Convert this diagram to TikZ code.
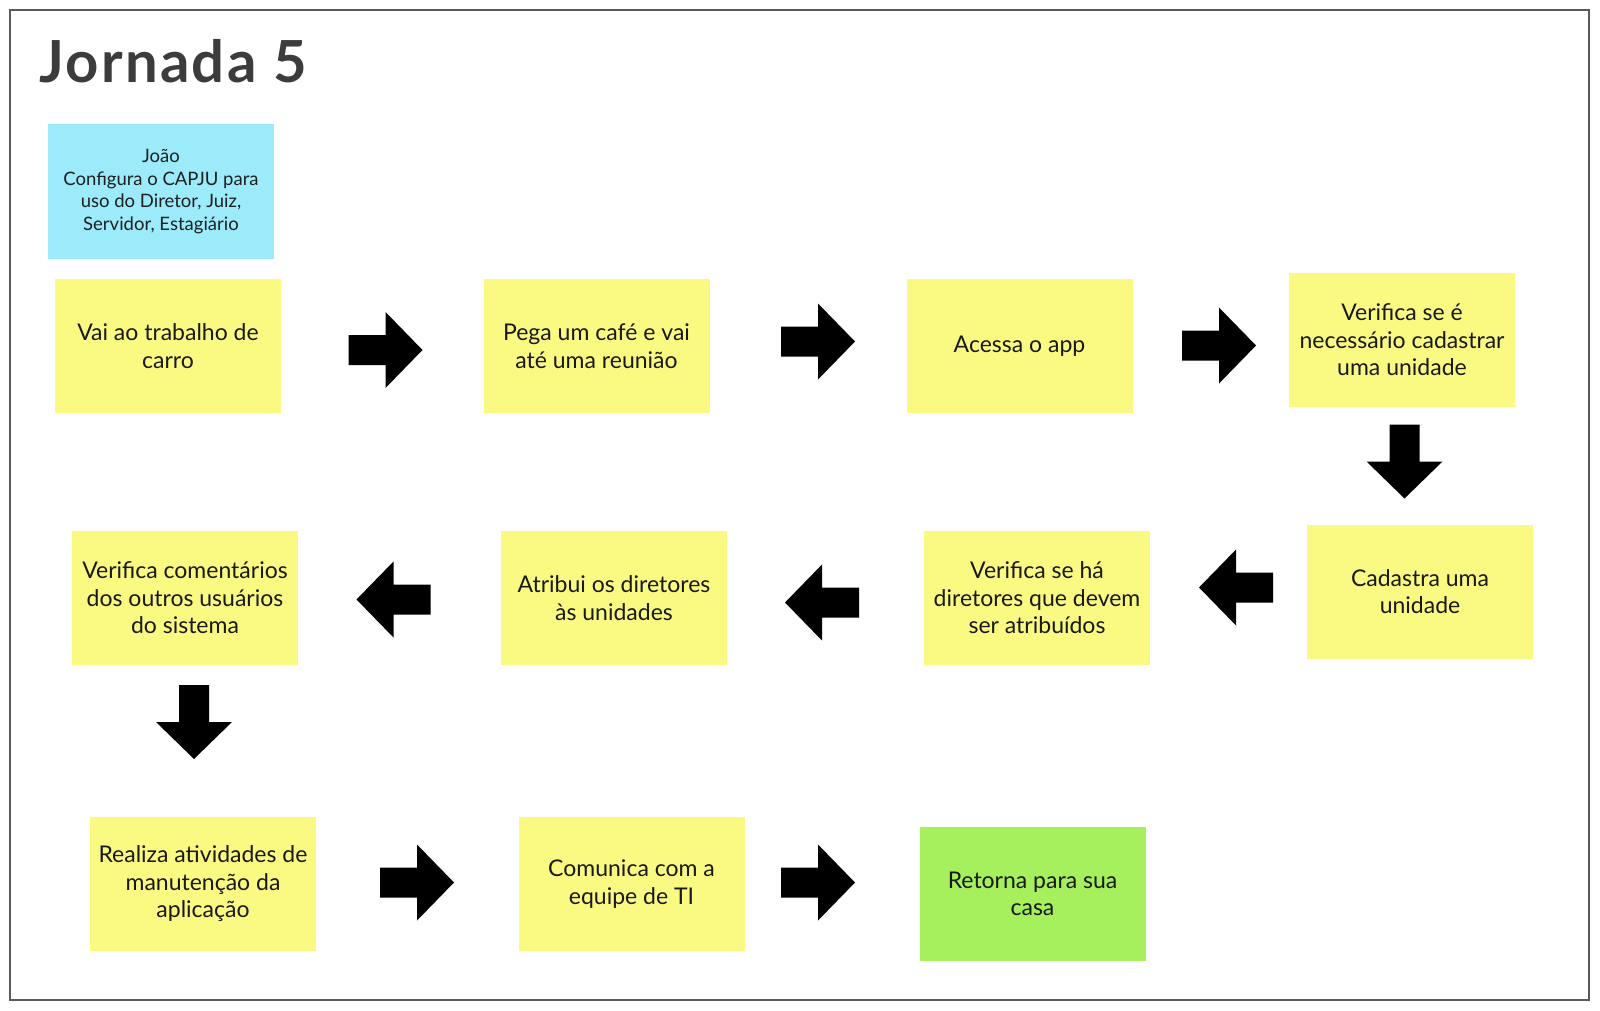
\documentclass[tikz,border=0pt]{standalone}
\usepackage{fontspec}
\setmainfont{Lato}
\newfontfamily\titlefont[LetterSpace=4]{Lato}
\definecolor{sticky}{RGB}{250,250,130}
\definecolor{skyb}{RGB}{155,235,250}
\definecolor{limeg}{RGB}{165,240,92}
\definecolor{titlegray}{RGB}{60,60,60}
\definecolor{framegray}{RGB}{90,90,90}
\begin{document}
\begin{tikzpicture}[x=1pt,y=-1pt,
  note/.style={fill=sticky, minimum width=226pt, minimum height=134pt, align=center,
    font=\fontsize{23}{27.5}\selectfont, text=black!90, inner sep=0pt},
  persona/.style={fill=skyb, minimum width=226pt, minimum height=135pt, align=center,
    font=\fontsize{18.5}{22.8}\selectfont, text=black!88, inner sep=0pt},
  barrow/.pic={\fill[black] (-37,-15) -- (0,-15) -- (0,-38) -- (37,0) -- (0,38) -- (0,15) -- (-37,15) -- cycle;}
]
\useasboundingbox (0,0) rectangle (1600,1011);
\fill[white] (0,0) rectangle (1600,1011);
\draw[framegray, line width=1.2pt] (10,10) rectangle (1589,1000);

\node[anchor=base west, font=\titlefont\fontsize{58}{60}\selectfont\bfseries, text=titlegray, inner sep=0pt] (title) at (39,83) {Jornada 5};

\node[persona] (joao) at (161,191.5) {João\\Configura o CAPJU para\\uso do Diretor, Juiz,\\Servidor, Estagiário};

\node[note] (n1) at (168,346) {Vai ao trabalho de\\carro};
\node[note] (n2) at (596.5,346) {Pega um café e vai\\até uma reunião};
\node[note] (n3) at (1019.5,346) {Acessa o app};
\node[note] (n4) at (1402,340) {Verifica se é\\necessário cadastrar\\uma unidade};

\node[note] (n5) at (1420,591.5) {Cadastra uma\\unidade};
\node[note] (n6) at (1037,598) {Verifica se há\\diretores que devem\\ser atribuídos};
\node[note] (n7) at (614,598) {Atribui os diretores\\às unidades};
\node[note] (n8) at (185,598) {Verifica comentários\\dos outros usuários\\do sistema};

\node[note] (n9) at (203,884) {Realiza atividades de\\manutenção da\\aplicação};
\node[note] (n10) at (631.5,884) {Comunica com a\\equipe de TI};
\node[note, fill=limeg] (n11) at (1032.5,894) {Retorna para sua\\casa};

\pic at (385.5,350) {barrow};
\pic at (818,341.5) {barrow};
\pic at (1219,345.5) {barrow};
\pic[rotate=-90] at (1404.5,461.5) {barrow};
\pic[rotate=180] at (1236,587.5) {barrow};
\pic[rotate=180] at (822,602.5) {barrow};
\pic[rotate=180] at (393.5,599.5) {barrow};
\pic[rotate=-90] at (194,722) {barrow};
\pic at (417,882.5) {barrow};
\pic at (818,882.5) {barrow};
\end{tikzpicture}
\end{document}
